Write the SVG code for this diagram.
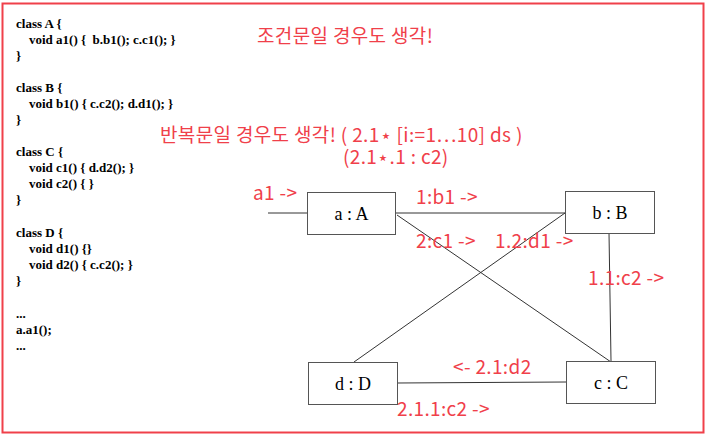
<svg xmlns="http://www.w3.org/2000/svg" width="707" height="437" viewBox="0 0 707 437">
<style>
.code{font-family:"Liberation Serif","Times New Roman",serif;font-size:13px;font-weight:bold;fill:#000}
.box{fill:#fff;stroke:#555;stroke-width:1}
.nl{font-family:"Liberation Serif","Times New Roman",serif;font-size:18px;fill:#000;text-anchor:middle}
.red{font-family:"Noto Sans CJK KR","Noto Sans",sans-serif;font-size:19px;letter-spacing:0.35px;fill:#f0404a}
.ln{stroke:#333;stroke-width:1;fill:none}
</style>
<rect x="2.5" y="3.5" width="701" height="429" fill="#fff" stroke="#f0404a" stroke-width="2"/>
<g id="code">
<text class="code" x="16" y="28">class A {</text>
<text class="code" x="29" y="44" xml:space="preserve">void a1() {  b.b1(); c.c1(); }</text>
<text class="code" x="16" y="60">}</text>
<text class="code" x="16" y="92">class B {</text>
<text class="code" x="29" y="108">void b1() { c.c2(); d.d1(); }</text>
<text class="code" x="16" y="124">}</text>
<text class="code" x="16" y="156">class C {</text>
<text class="code" x="29" y="172">void c1() { d.d2(); }</text>
<text class="code" x="29" y="188">void c2() { }</text>
<text class="code" x="16" y="204">}</text>
<text class="code" x="16" y="237">class D {</text>
<text class="code" x="29" y="253">void d1() {}</text>
<text class="code" x="29" y="269">void d2() { c.c2(); }</text>
<text class="code" x="16" y="285">}</text>
<text class="code" x="16" y="318">...</text>
<text class="code" x="16" y="334">a.a1();</text>
<text class="code" x="16" y="350">...</text>
</g>
<g id="notes">
<text class="red" x="257" y="43">조건문일 경우도 생각!</text>
<text class="red" x="160" y="142">반복문일 경우도 생각! ( 2.1⋆ [i:=1…10] ds )</text>
<text class="red" x="343" y="164">(2.1⋆.1 : c2)</text>
</g>
<g id="connectors">
<line class="ln" x1="268" y1="213" x2="307" y2="213"/>
<line class="ln" x1="395" y1="213" x2="565" y2="213"/>
<line class="ln" x1="397" y1="215" x2="611" y2="362"/>
<line class="ln" x1="565" y1="213" x2="354" y2="362"/>
<line class="ln" x1="609" y1="233" x2="611" y2="361"/>
<line class="ln" x1="397" y1="383" x2="566" y2="382"/>
<text class="red" x="253" y="200">a1 -&gt;</text>
<text class="red" x="416" y="204">1:b1 -&gt;</text>
<text class="red" x="416" y="248">2:c1 -&gt;</text>
<text class="red" x="495" y="248">1.2:d1 -&gt;</text>
<text class="red" x="588" y="285">1.1:c2 -&gt;</text>
<text class="red" x="453" y="374">&lt;- 2.1:d2</text>
<text class="red" x="397" y="416">2.1.1:c2 -&gt;</text>
</g>
<g id="node-a"><rect class="box" x="307.5" y="192.5" width="88" height="42"/><text class="nl" x="351.5" y="220">a : A</text></g>
<g id="node-b"><rect class="box" x="565.5" y="191.5" width="89" height="42"/><text class="nl" x="610" y="219">b : B</text></g>
<g id="node-d"><rect class="box" x="308.5" y="362.5" width="89" height="42"/><text class="nl" x="353" y="390">d : D</text></g>
<g id="node-c"><rect class="box" x="566.5" y="361.5" width="89" height="42"/><text class="nl" x="611" y="389">c : C</text></g>
</svg>
